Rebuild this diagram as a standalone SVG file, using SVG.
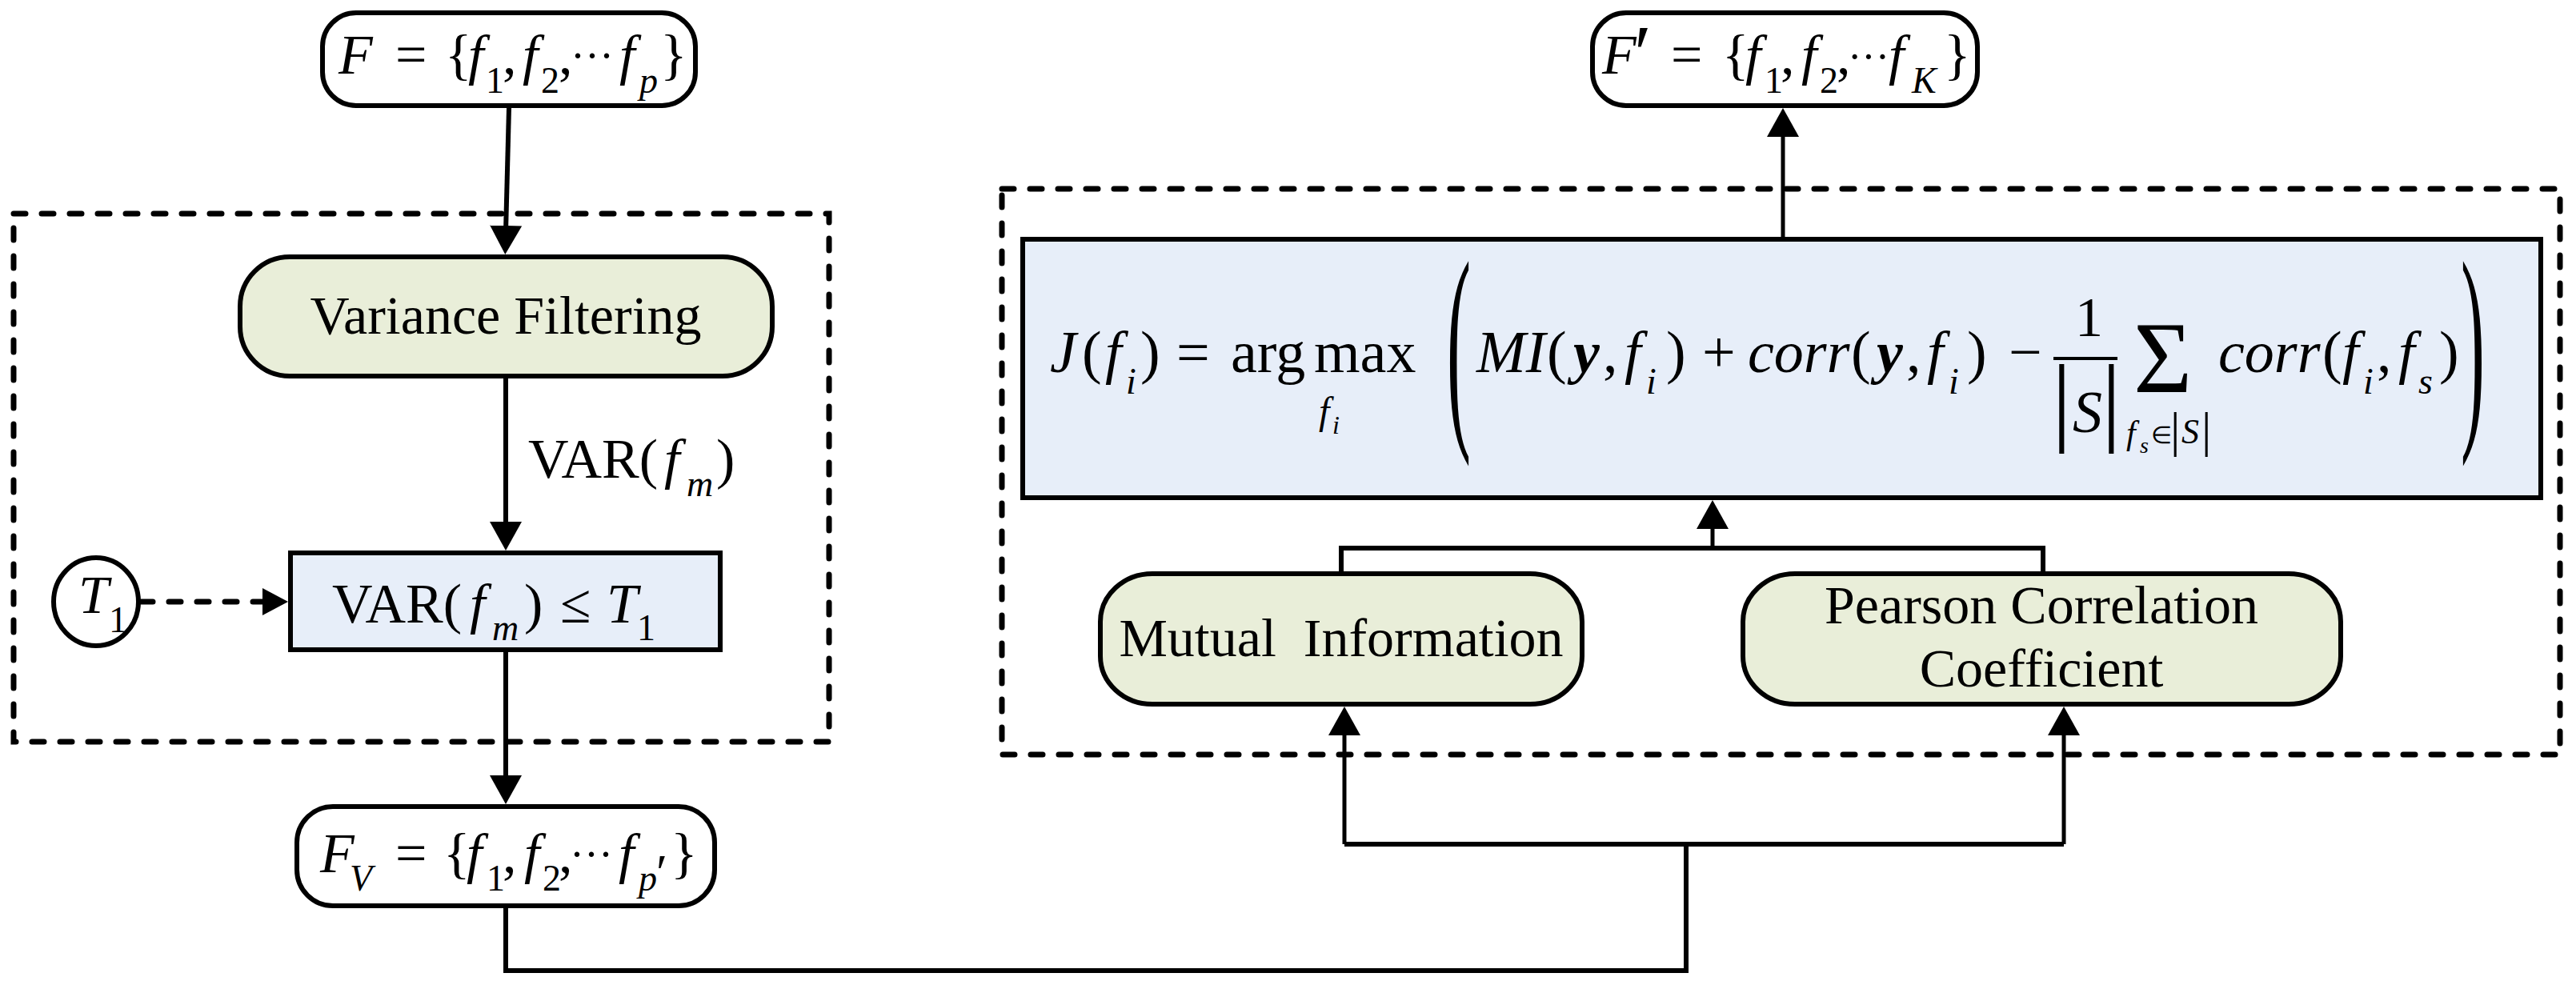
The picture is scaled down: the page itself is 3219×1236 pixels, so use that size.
<svg xmlns="http://www.w3.org/2000/svg" width="3219" height="1236" viewBox="0 0 3219 1236">
<style>
text{font-family:"Liberation Serif","Times New Roman",serif;fill:#000}
.it{font-style:italic}
.bi{font-style:italic;font-weight:bold}
.node{stroke:#000;stroke-width:6}
.green{fill:#E9EED9}
.blue{fill:#E7EEF9}
.white{fill:#fff}
.dash{fill:none;stroke:#000;stroke-width:7;stroke-dasharray:15 20;stroke-linecap:round}
.conn{fill:none;stroke:#000;stroke-width:6}
.conn4{fill:none;stroke:#000;stroke-width:5}
</style>
<defs>
<marker id="ah" viewBox="0 0 36 40" refX="8" refY="20" markerWidth="36" markerHeight="40" markerUnits="userSpaceOnUse" orient="auto"><path d="M0,0 L36,20 L0,40 Z" fill="#000"/></marker>
<marker id="ahs" viewBox="0 0 32 34" refX="8" refY="17" markerWidth="32" markerHeight="34" markerUnits="userSpaceOnUse" orient="auto"><path d="M0,0 L32,17 L0,34 Z" fill="#000"/></marker>
</defs>
<rect width="3219" height="1236" fill="#fff"/>

<g id="groups">
<rect id="left-frame" class="dash" x="17" y="267" width="1019" height="660"/>
<rect id="right-frame" class="dash" x="1252" y="236" width="1947" height="707"/>
</g>

<g id="connectors">
<path class="conn" d="M636,135 L632,290" marker-end="url(#ah)"/>
<path class="conn" d="M632,473 V660" marker-end="url(#ah)"/>
<path class="dash" d="M176,752 H336" marker-end="url(#ahs)"/>
<path class="conn" d="M632,815 V977" marker-end="url(#ah)"/>
<path class="conn" d="M632,1135 V1213 H2107 V1055"/>
<path class="conn" d="M1680,1055 H2579"/>
<path class="conn4" d="M1680,1055 V911" marker-end="url(#ah)"/>
<path class="conn4" d="M2579,1055 V911" marker-end="url(#ah)"/>
<path class="conn" d="M1676,714 V685 H2553 V714"/>
<path class="conn4" d="M2140,685 V653" marker-end="url(#ah)"/>
<path class="conn4" d="M2228,296 V163" marker-end="url(#ah)"/>
</g>

<g id="node-F">
<rect class="node white" x="403" y="16" width="466" height="116" rx="42"/>
<text font-size="70"><tspan class="it" x="423" y="92">F</tspan><tspan x="494" y="92">=</tspan><tspan x="556" y="92">{</tspan><tspan class="it" x="585" y="92">f</tspan><tspan x="607" y="116" font-size="46">1</tspan><tspan x="628" y="92">,</tspan><tspan class="it" x="653" y="92">f</tspan><tspan x="676" y="116" font-size="46">2</tspan><tspan x="698" y="92">,</tspan><tspan x="713" y="88" font-size="54">···</tspan><tspan class="it" x="774" y="92">f</tspan><tspan class="it" x="799" y="116" font-size="46">p</tspan><tspan x="825" y="92">}</tspan></text>
</g>

<g id="node-variance">
<rect class="node green" x="300" y="321" width="665" height="149" rx="62"/>
<text x="632" y="417" font-size="68" text-anchor="middle">Variance Filtering</text>
</g>

<g id="label-var">
<text font-size="70"><tspan x="660" y="597">VAR(</tspan><tspan class="it" x="830" y="597">f</tspan><tspan class="it" x="858" y="620" font-size="46">m</tspan><tspan x="895" y="597">)</tspan></text>
</g>

<g id="node-T1">
<ellipse class="node white" cx="120" cy="752" rx="53" ry="55"/>
<text font-size="68"><tspan class="it" x="98" y="766">T</tspan><tspan x="136" y="790" font-size="46">1</tspan></text>
</g>

<g id="node-threshold">
<rect class="node blue" x="363" y="691" width="537" height="121"/>
<text font-size="70"><tspan x="415" y="778">VAR(</tspan><tspan class="it" x="587" y="778">f</tspan><tspan class="it" x="615" y="800" font-size="46">m</tspan><tspan x="655" y="778">)</tspan><tspan x="700" y="778">≤</tspan><tspan class="it" x="758" y="778">T</tspan><tspan x="796" y="800" font-size="46">1</tspan></text>
</g>

<g id="node-FV">
<rect class="node white" x="371" y="1008" width="522" height="124" rx="45"/>
<text font-size="70"><tspan class="it" x="400" y="1090">F</tspan><tspan class="it" x="437" y="1113" font-size="46">V</tspan><tspan x="494" y="1090">=</tspan><tspan x="554" y="1090">{</tspan><tspan class="it" x="583" y="1090">f</tspan><tspan x="608" y="1113" font-size="46">1</tspan><tspan x="628" y="1090">,</tspan><tspan class="it" x="655" y="1090">f</tspan><tspan x="678" y="1113" font-size="46">2</tspan><tspan x="698" y="1090">,</tspan><tspan x="712" y="1086" font-size="54">···</tspan><tspan class="it" x="773" y="1090">f</tspan><tspan class="it" x="798" y="1113" font-size="46">p</tspan><tspan x="820" y="1112" font-size="64">′</tspan><tspan x="838" y="1090">}</tspan></text>
</g>

<g id="node-Fprime">
<rect class="node white" x="1990" y="16" width="481" height="116" rx="42"/>
<text font-size="70"><tspan class="it" x="2002" y="92">F</tspan><tspan x="2042" y="100" font-size="100">′</tspan><tspan x="2088" y="92">=</tspan><tspan x="2152" y="92">{</tspan><tspan class="it" x="2181" y="92">f</tspan><tspan x="2205" y="116" font-size="46">1</tspan><tspan x="2225" y="92">,</tspan><tspan class="it" x="2251" y="92">f</tspan><tspan x="2274" y="116" font-size="46">2</tspan><tspan x="2295" y="92">,</tspan><tspan x="2309" y="88" font-size="52">···</tspan><tspan class="it" x="2360" y="92">f</tspan><tspan class="it" x="2389" y="116" font-size="46">K</tspan><tspan x="2429" y="92">}</tspan></text>
</g>

<g id="node-formula">
<rect class="node blue" x="1278" y="299" width="1897" height="323"/>
<text font-size="74"><tspan class="it" x="1312" y="465">J</tspan><tspan x="1352" y="465">(</tspan><tspan class="it" x="1381" y="465">f</tspan><tspan class="it" x="1407" y="492" font-size="46">i</tspan><tspan x="1425" y="465">)</tspan><tspan x="1470" y="465">=</tspan><tspan x="1538" y="465">arg</tspan><tspan x="1642" y="465">max</tspan><tspan class="it" x="1648" y="530" font-size="48">f</tspan><tspan class="it" x="1665" y="542" font-size="32">i</tspan><tspan class="it" x="1845" y="465">MI</tspan><tspan x="1933" y="465">(</tspan><tspan class="bi" x="1966" y="465">y</tspan><tspan x="2003" y="465">,</tspan><tspan class="it" x="2030" y="465">f</tspan><tspan class="it" x="2057" y="492" font-size="46">i</tspan><tspan x="2082" y="465">)</tspan><tspan x="2127" y="465">+</tspan><tspan class="it" x="2184" y="465">corr</tspan><tspan x="2313" y="465">(</tspan><tspan class="bi" x="2345" y="465">y</tspan><tspan x="2382" y="465">,</tspan><tspan class="it" x="2408" y="465">f</tspan><tspan class="it" x="2435" y="492" font-size="46">i</tspan><tspan x="2458" y="465">)</tspan><tspan x="2510" y="465">−</tspan><tspan x="2593" y="420" font-size="70">1</tspan><tspan x="2564" y="541" font-size="123">|</tspan><tspan class="it" x="2590" y="540">S</tspan><tspan x="2626" y="541" font-size="123">|</tspan><tspan x="2666" y="490" font-size="126">Σ</tspan><tspan class="it" x="2657" y="555" font-size="42">f</tspan><tspan class="it" x="2674" y="566" font-size="28">s</tspan><tspan x="2688" y="554" font-size="30">∈</tspan><tspan x="2712" y="558" font-size="62">|</tspan><tspan class="it" x="2726" y="554" font-size="44">S</tspan><tspan x="2751" y="558" font-size="62">|</tspan><tspan class="it" x="2772" y="465">corr</tspan><tspan x="2902" y="465">(</tspan><tspan class="it" x="2927" y="465">f</tspan><tspan class="it" x="2953" y="492" font-size="46">i</tspan><tspan x="2970" y="465">,</tspan><tspan class="it" x="2997" y="465">f</tspan><tspan class="it" x="3022" y="492" font-size="46">s</tspan><tspan x="3048" y="465">)</tspan></text>
<line x1="2566" y1="448" x2="2646" y2="448" stroke="#000" stroke-width="4"/>
<text font-size="90" transform="translate(1808 450) scale(1 3.14)"><tspan x="0" y="23">(</tspan></text>
<text font-size="90" transform="translate(3075 450) scale(1 3.14)"><tspan x="0" y="23">)</tspan></text>
</g>

<g id="node-MI">
<rect class="node green" x="1375" y="717" width="602" height="163" rx="65" ry="60"/>
<text x="1676" y="820" font-size="68" text-anchor="middle" xml:space="preserve">Mutual  Information</text>
</g>

<g id="node-PCC">
<rect class="node green" x="2178" y="717" width="747" height="163" rx="65" ry="60"/>
<text font-size="68" text-anchor="middle"><tspan x="2551" y="779">Pearson Correlation</tspan><tspan x="2551" y="858">Coefficient</tspan></text>
</g>
</svg>
